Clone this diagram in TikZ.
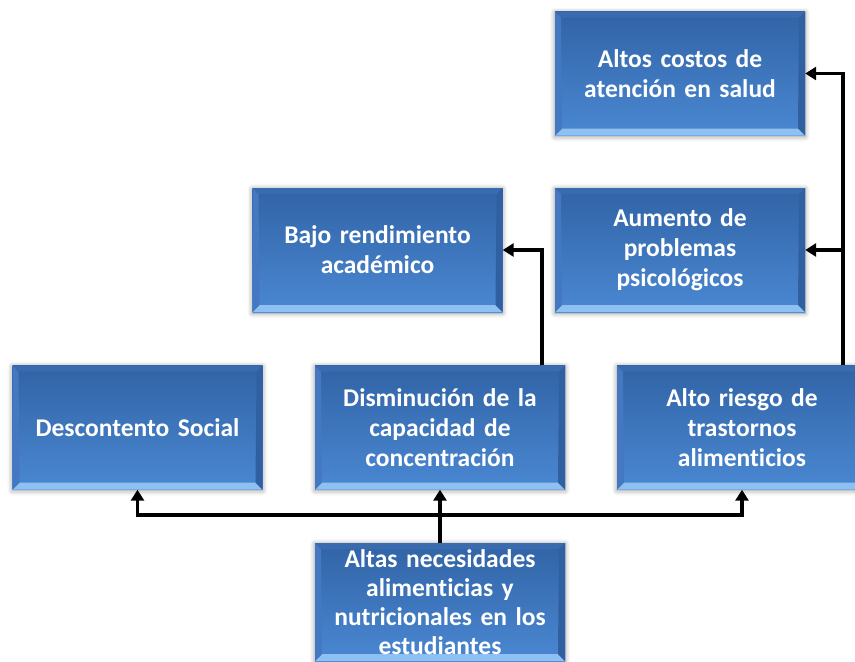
\documentclass[tikz,border=0pt]{standalone}
\usepackage{fontspec}
\setmainfont{Carlito}[Ligatures=NoCommon,WordSpace=0.75]
\usetikzlibrary{arrows.meta,shadows.blur,calc}
\definecolor{boxtop}{HTML}{3163A6}
\definecolor{boxbot}{HTML}{4A88D2}
\definecolor{bevbot}{HTML}{8EC0F2}
\definecolor{bevright}{HTML}{3060A0}
\definecolor{bevleft}{HTML}{4478C0}
\definecolor{bevtop}{HTML}{3A6BAE}
\tikzset{
  cbox/.style={rectangle, minimum width=250pt, minimum height=124pt, inner sep=0pt,
    text width=244pt, align=center, text=white,
    font=\fontsize{25.5}{30}\selectfont\bfseries,
    top color=boxtop, bottom color=boxbot,
    blur shadow={shadow xshift=0pt, shadow yshift=-1pt, shadow blur radius=5pt, shadow opacity=45},
    path picture={
      \fill[bevbot] (path picture bounding box.south west) -- (path picture bounding box.south east)
        -- ++(-7pt,7pt) -- ($(path picture bounding box.south west)+(7pt,7pt)$) -- cycle;
      \fill[bevright] (path picture bounding box.south east) -- (path picture bounding box.north east)
        -- ++(-6pt,-6pt) -- ($(path picture bounding box.south east)+(-7pt,7pt)$) -- cycle;
      \fill[bevleft] (path picture bounding box.south west) -- (path picture bounding box.north west)
        -- ++(6pt,-6pt) -- ($(path picture bounding box.south west)+(7pt,7pt)$) -- cycle;
      \fill[bevtop] (path picture bounding box.north west) -- (path picture bounding box.north east)
        -- ++(-6pt,-6pt) -- ($(path picture bounding box.north west)+(6pt,-6pt)$) -- cycle;
    }},
  arr/.style={line width=3.6pt, -{Triangle[width=13pt,length=11pt]}},
  ln/.style={line width=3.6pt}
}
\begin{document}
\begin{tikzpicture}[x=1pt,y=1pt]
\useasboundingbox (0,0) rectangle (855,-662);
\begin{scope}
\clip (0,0) rectangle (855,-662);
\node[cbox] (cost) at (680,-73.5) {Altos costos de\\atención en salud};
\node[cbox] (aum) at (680,-250) {Aumento de\\problemas\\psicológicos};
\node[cbox] (bajo) at (377.5,-250) {Bajo rendimiento\\académico};
\node[cbox] (desc) at (137.5,-427.5) {Descontento Social};
\node[cbox] (dism) at (440,-427.5) {Disminución de la\\capacidad de\\concentración};
\node[cbox] (alto) at (742,-427.5) {Alto riesgo de\\trastornos\\alimenticios};
\node[cbox, minimum height=118pt, font=\fontsize{25.5}{29}\selectfont\bfseries] (alt) at (440,-602) {Altas necesidades\\alimenticias y\\nutricionales en los\\estudiantes};
\coordinate (j) at (440,-515);
\coordinate (rx) at (843,0);
\coordinate (mx) at (542,0);
\draw[ln] (alt.north) -- (j);
\draw[arr] (j) -| (desc.south);
\draw[arr] (j) -| (alto.south);
\draw[arr] (j) -- (dism.south);
\draw[arr] (dism.north -| mx) |- (bajo.east);
\draw[arr] (alto.north -| rx) |- (cost.east);
\draw[arr] (aum.east -| rx) -- (aum.east);
\end{scope}
\end{tikzpicture}
\end{document}
